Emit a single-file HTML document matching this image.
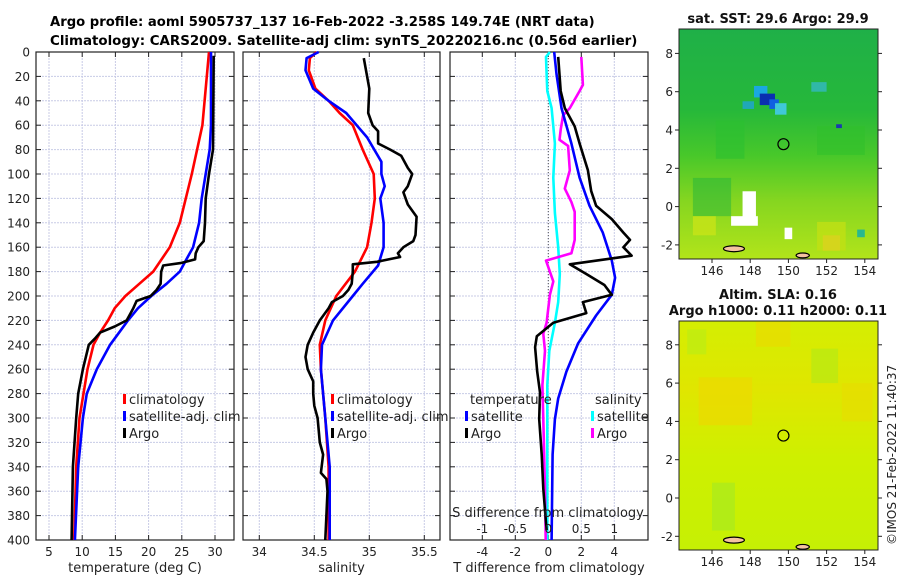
<!DOCTYPE html>
<html><head><meta charset="utf-8">
<style>
body{margin:0;background:#fff;}
svg{display:block;font-family:"DejaVu Sans","Liberation Sans",sans-serif;}
</style></head>
<body>
<svg id="fig" width="900" height="580" viewBox="0 0 900 580">
<defs>
<linearGradient id="sstGrad" x1="0" y1="0" x2="0" y2="1">
<stop offset="0" stop-color="#1fb048"/><stop offset="0.35" stop-color="#26b83a"/>
<stop offset="0.55" stop-color="#48c82a"/><stop offset="0.75" stop-color="#86d620"/><stop offset="1" stop-color="#b2e41a"/>
</linearGradient>
<linearGradient id="slaGrad" x1="0" y1="0" x2="0" y2="1">
<stop offset="0" stop-color="#d4ee02"/><stop offset="0.3" stop-color="#e0e600"/>
<stop offset="0.6" stop-color="#cef000"/><stop offset="1" stop-color="#c6f004"/>
</linearGradient>
</defs>
<text x="50" y="26" text-anchor="start" font-weight="bold" font-size="13.2">Argo profile: aoml 5905737_137 16-Feb-2022 -3.258S 149.74E (NRT data)</text>
<text x="50" y="45" text-anchor="start" font-weight="bold" font-size="13.4">Climatology: CARS2009. Satellite-adj clim: synTS_20220216.nc (0.56d earlier)</text>
<g id="g"></g>
</svg>
<script>
// ---------- data ----------
const depthTicks=[0,20,40,60,80,100,120,140,160,180,200,220,240,260,280,300,320,340,360,380,400];
const tempTicks=[5,10,15,20,25,30];
const salTicks=[34,34.5,35,35.5];
const tdiffTicks=[-4,-2,0,2,4];
const sdiffTicks=[-1,-0.5,0,0.5,1];
const lonTicks=[146,148,150,152,154];
const latTicks=[-2,0,2,4,6,8];

const climTDepth=[0,60,100,140,160,180,190,200,210,220,230,240,260,280,300,340,400];
const climT=[29.1,28.1,26.5,24.7,23.2,20.7,18.6,16.5,14.9,13.9,12.7,11.7,10.8,10.2,9.6,9.1,8.8];
const satTDepth=[0,60,80,100,120,140,160,170,180,190,200,210,220,240,260,280,300,340,400];
const satT=[29.4,29.4,29.2,28.6,28.0,27.6,26.7,25.7,24.7,22.7,20.4,18.4,16.9,14.2,12.2,10.7,10.1,9.4,8.9];
const argoTDepth=[3,80,100,120,140,155,160,165,170,173,175,180,190,195,200,204,210,220,225,230,235,240,260,280,300,340,400];
const argoT=[29.8,29.7,29.1,28.6,28.5,28.3,27.5,27.1,27.0,24.8,22.2,21.9,21.8,21.2,20.3,18.2,17.7,16.7,14.9,12.7,11.9,11.0,10.1,9.4,9.1,8.6,8.4];

const climSDepth=[0,5,15,30,40,50,60,80,100,120,140,160,180,200,220,240,260,280,300,340,400];
const climS=[34.52,34.46,34.45,34.51,34.63,34.73,34.85,34.94,35.04,35.05,35.02,34.98,34.87,34.70,34.60,34.55,34.56,34.58,34.60,34.63,34.63];
const satSDepth=[0,5,15,30,40,50,70,90,100,110,120,140,160,175,190,200,220,240,260,300,340,400];
const satS=[34.54,34.43,34.42,34.49,34.63,34.79,34.98,35.11,35.11,35.14,35.10,35.13,35.13,35.08,34.94,34.85,34.67,34.57,34.56,34.60,34.64,34.64];
const argoSDepth=[5,20,30,50,60,65,75,80,85,95,100,110,115,125,135,150,155,160,165,168,172,174,180,190,195,200,205,210,220,230,240,250,260,270,280,290,300,320,330,345,350,360,400];
const argoS=[34.95,34.98,35.0,34.99,35.03,35.08,35.08,35.19,35.29,35.35,35.39,35.35,35.31,35.35,35.43,35.42,35.40,35.31,35.26,35.28,35.07,34.85,34.85,34.84,34.81,34.76,34.66,34.63,34.55,34.49,34.44,34.42,34.44,34.49,34.49,34.50,34.53,34.55,34.58,34.56,34.61,34.62,34.60];

const satTdDepth=[0,18,46,75,103,126,148,171,185,199,216,239,262,284,301,330,400];
const satTd=[0.36,0.5,0.8,1.4,1.9,2.5,3.3,3.85,4.05,3.85,2.9,1.8,1.1,0.6,0.4,0.26,0.2];
const argoTdDepth=[4,32,46,61,75,97,114,126,137,148,154,160,167,174,182,191,199,205,214,222,233,242,262,279,301,330,358,392];
const argoTd=[0.6,0.75,1.0,1.6,1.9,2.4,2.6,2.9,3.85,4.55,4.95,4.55,5.05,1.3,2.3,3.4,3.85,2.1,2.3,0.3,-0.7,-0.8,-0.67,-0.5,-0.55,-0.4,-0.3,-0.1];
const satSdDepth=[0,4,18,32,46,75,103,132,160,182,205,222,245,273,301,358,400];
const satSd=[0.025,-0.035,-0.025,-0.015,0.05,0.1,0.075,0.1,0.15,0.175,0.15,0.1,0.015,-0.015,-0.015,-0.015,-0.015];
const argoSdDepth=[4,27,32,46,52,63,72,77,97,112,123,131,154,165,171,188,199,210,222,231,245,273,301,358,400];
const argoSd=[0.5,0.525,0.475,0.325,0.225,0.19,0.17,0.3,0.325,0.25,0.35,0.4,0.4,0.35,-0.035,0.075,0.025,0,-0.025,-0.075,-0.05,-0.09,-0.075,-0.05,-0.04];

const argoLon=149.74, argoLat=3.26;

// ---------- scales ----------
const NS="http://www.w3.org/2000/svg";
const G=document.getElementById('g');
function mk(tag,attrs,parent){const e=document.createElementNS(NS,tag);for(const k in attrs)e.setAttribute(k,attrs[k]);(parent||G).appendChild(e);return e;}
const yD=d=>52+d*1.22;
const xT=t=>49+(t-5)*6.64;
const xS=s=>259.3+(s-34)*110;
const xTd=t=>548.3+t*16.5;
const xSd=s=>548.3+s*66;
const panels=[{x0:36,x1:234,fx:xT,ticks:tempTicks,label:'temperature (deg C)',name:'temperature'},
{x0:243,x1:440,fx:xS,ticks:salTicks,label:'salinity',name:'salinity'},
{x0:450,x1:648,fx:xTd,ticks:tdiffTicks,label:'T difference from climatology',name:'difference'}];

panels.forEach((p,pi)=>{
  const pg=mk('g',{});
  
  
  depthTicks.forEach(d=>{
    const l=mk('line',{x1:p.x0,x2:p.x1,y1:yD(d),y2:yD(d),stroke:'#c8cbe6','stroke-width':1,'stroke-dasharray':'2,1'},pg);
    
    
    mk('line',{x1:p.x0,x2:p.x0+5,y1:yD(d),y2:yD(d),stroke:'#222'},pg);
    mk('line',{x1:p.x1-5,x2:p.x1,y1:yD(d),y2:yD(d),stroke:'#222'},pg);
    if(pi===0){const t=mk('text',{x:30,y:yD(d)+4.5,'text-anchor':'end','font-size':12,fill:'#222'},pg);t.textContent=d;
      
      }
  });
  p.ticks.forEach(v=>{
    const x=p.fx(v);
    const l=mk('line',{x1:x,x2:x,y1:52,y2:540,stroke:'#c8cbe6','stroke-width':1,'stroke-dasharray':'2,1'},pg);
    
    
    mk('line',{x1:x,x2:x,y1:535,y2:540,stroke:'#222'},pg);
    mk('line',{x1:x,x2:x,y1:52,y2:57,stroke:'#222'},pg);
    const t=mk('text',{x:x,y:556,'text-anchor':'middle','font-size':12,fill:'#222'},pg);t.textContent=v;
    
    
  });
  mk('rect',{x:p.x0,y:52,width:p.x1-p.x0,height:488,fill:'none',stroke:'#222','stroke-width':1.2},pg);
  const at=mk('text',{x:(p.x0+p.x1)/2,y:572,'text-anchor':'middle','font-size':13,fill:'#222'},pg);at.textContent=p.label;
  
  
});
const zl=mk('line',{x1:xTd(0),x2:xTd(0),y1:yD(0),y2:yD(270),stroke:'#555','stroke-dasharray':'1,2'});



function series(depths,vals,fx,color,name){
  const pts=depths.map((d,i)=>fx(vals[i]).toFixed(1)+','+yD(d).toFixed(1)).join(' ');
  const pl=mk('polyline',{points:pts,fill:'none',stroke:color,'stroke-width':2.6,'stroke-linejoin':'round'});
  
  
}
series(climTDepth,climT,xT,'#ff0000','temp-climatology-line');
series(satTDepth,satT,xT,'#0000ff','temp-satellite-line');
series(argoTDepth,argoT,xT,'#000000','temp-argo-line');
series(climSDepth,climS,xS,'#ff0000','sal-climatology-line');
series(satSDepth,satS,xS,'#0000ff','sal-satellite-line');
series(argoSDepth,argoS,xS,'#000000','sal-argo-line');
series(satSdDepth,satSd,xSd,'#00ffff','sdiff-satellite-line');
series(argoSdDepth,argoSd,xSd,'#ff00ff','sdiff-argo-line');
series(satTdDepth,satTd,xTd,'#0000ff','tdiff-satellite-line');
series(argoTdDepth,argoTd,xTd,'#000000','tdiff-argo-line');

const st=mk('text',{x:548,y:517,'text-anchor':'middle','font-size':13,fill:'#222'});st.textContent='S difference from climatology';


sdiffTicks.forEach(v=>{const t=mk('text',{x:xSd(v),y:533,'text-anchor':'middle','font-size':12,fill:'#222'});t.textContent=v;
  
  });

function legend(x,y,color,label,name){
  const m=mk('rect',{x:x,y:y-10,width:3,height:10,fill:color});
  
  
  const t=mk('text',{x:x+6,y:y,'font-size':13,fill:'#222'});t.textContent=label;
  
  
}
legend(123,404,'#ff0000','climatology','legend-climatology');
legend(123,421,'#0000ff','satellite-adj. clim','legend-satellite');
legend(123,438,'#000000','Argo','legend-argo');
legend(331,404,'#ff0000','climatology','legend-sal-climatology');
legend(331,421,'#0000ff','satellite-adj. clim','legend-sal-satellite');
legend(331,438,'#000000','Argo','legend-sal-argo');
const lt1=mk('text',{x:470,y:404,'font-size':13,fill:'#222'});lt1.textContent='temperature';


const lt2=mk('text',{x:595,y:404,'font-size':13,fill:'#222'});lt2.textContent='salinity';


legend(465,421,'#0000ff','satellite','legend-tdiff-satellite');
legend(465,438,'#000000','Argo','legend-tdiff-argo');
legend(591,421,'#00ffff','satellite','legend-sdiff-satellite');
legend(591,438,'#ff00ff','Argo','legend-sdiff-argo');

// ---------- maps ----------
function map(top,bottom,lat0y,fill,title1,title2,name,patches){
  const lx=lon=>712+(lon-146)*19.1;
  const ly=lat=>lat0y-lat*19.15;
  const mg=mk('g',{});
  
  
  mk('rect',{x:679,y:top,width:199,height:bottom-top,fill:fill},mg);
  patches.forEach(p=>{mk('rect',{x:lx(p[0]),y:ly(p[1]),width:p[2]*19.1,height:p[3]*19.15,fill:p[4],opacity:p[5]||1},mg);});
  [[146.6,-2.2,1.1,0.25],[150.4,-2.55,0.7,0.2]].forEach(p=>{
    mk('ellipse',{cx:lx(p[0]+p[2]/2),cy:ly(p[1]),rx:p[2]*9.5,ry:p[3]*12,fill:'#f4c3a0',stroke:'#000','stroke-width':1.2},mg);});
  const c=mk('circle',{cx:lx(argoLon),cy:ly(argoLat),r:5.5,fill:'none',stroke:'#000','stroke-width':1.2},mg);
  
  
  mk('rect',{x:679,y:top,width:199,height:bottom-top,fill:'none',stroke:'#222','stroke-width':1},mg);
  lonTicks.forEach(v=>{mk('line',{x1:lx(v),x2:lx(v),y1:bottom,y2:bottom+4,stroke:'#222'},mg);
    const t=mk('text',{x:lx(v),y:bottom+16,'text-anchor':'middle','font-size':12,fill:'#222'},mg);t.textContent=v;
    
    });
  latTicks.forEach(v=>{mk('line',{x1:675,x2:679,y1:ly(v),y2:ly(v),stroke:'#222'},mg);
    mk('line',{x1:878,x2:882,y1:ly(v),y2:ly(v),stroke:'#222'},mg);
    const t=mk('text',{x:673,y:ly(v)+4.5,'text-anchor':'end','font-size':12,fill:'#222'},mg);t.textContent=v;
    
    });
  const t1=mk('text',{x:778,y:title2?top-22:top-6,'text-anchor':'middle','font-size':13,'font-weight':'bold',fill:'#111'},mg);t1.textContent=title1;
  
  
  if(title2){const t2=mk('text',{x:778,y:top-6,'text-anchor':'middle','font-size':13,'font-weight':'bold',fill:'#111'},mg);t2.textContent=title2;
    
    }
}
map(29,259,206.6,'url(#sstGrad)','sat. SST: 29.6  Argo: 29.9',null,'sst-map',[
 [146.2,4.5,1.5,2.0,'#2cc030',0.6],[151.5,4.2,2.5,1.5,'#30c02c',0.6],[145.0,1.5,2.0,2.0,'#22b43c',0.5],
 [148.2,6.3,0.7,0.6,'#1aa8e0'],[148.5,5.9,0.8,0.6,'#0a2fb0'],[149.0,5.6,0.5,0.5,'#1060e0'],[149.3,5.4,0.6,0.6,'#40c8d8'],
 [147.6,5.5,0.6,0.4,'#20a8b8'],[151.2,6.5,0.8,0.5,'#30b8a8'],[152.5,4.3,0.3,0.2,'#1a3ab0'],
 [147.6,0.8,0.7,1.7,'#ffffff'],[147.0,-0.5,1.4,0.5,'#ffffff'],[149.8,-1.1,0.4,0.6,'#ffffff'],
 [151.5,-0.8,1.5,1.5,'#c0e014',0.8],[151.8,-1.5,0.9,0.8,'#e0d020',0.7],[145.0,-0.5,1.2,1.0,'#c8e418',0.8],[153.6,-1.2,0.4,0.4,'#28b890']]);
map(321,550,498,'url(#slaGrad)','Altim. SLA: 0.16','Argo h1000: 0.11 h2000: 0.11','sla-map',[
 [145.3,6.3,2.8,2.5,'#ecd800',0.7],[148.3,9.2,1.8,1.3,'#ecd800',0.6],[151.2,7.8,1.4,1.8,'#b0ea18',0.6],[146.0,0.8,1.2,2.5,'#a8ea20',0.7],
 [152.8,6.0,1.6,2.0,'#e8dc00',0.6],[144.7,8.8,1.0,1.3,'#b8ec18',0.6]]);
const cr=mk('text',{x:0,y:0,'font-size':12,fill:'#222',transform:'translate(896,545) rotate(-90)'});cr.textContent='©IMOS 21-Feb-2022 11:40:37';


</script>
</body></html>
